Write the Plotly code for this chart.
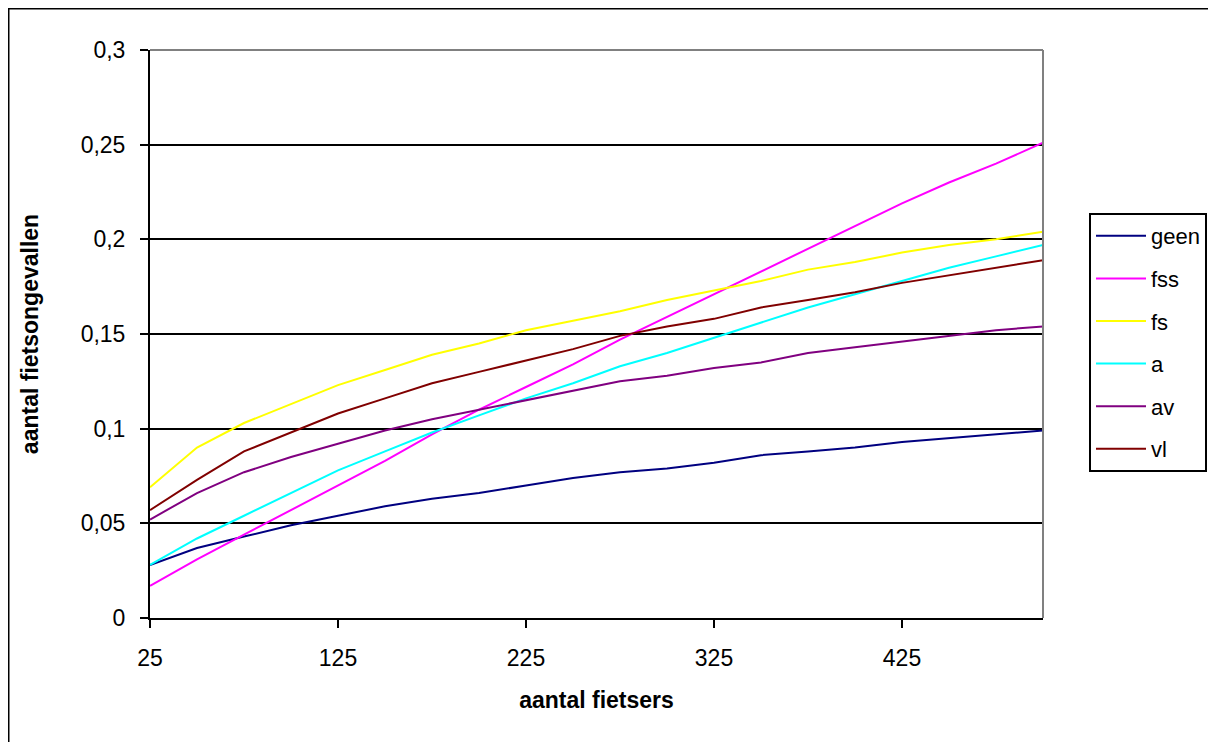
import plotly.graph_objects as go

x = [25, 50, 75, 100, 125, 150, 175, 200, 225, 250, 275, 300, 325, 350, 375, 400, 425, 450, 475, 500]

geen = [0.028, 0.037, 0.043, 0.049, 0.054, 0.059, 0.063, 0.066, 0.070, 0.074, 0.077, 0.079, 0.082, 0.086, 0.088, 0.090, 0.093, 0.095, 0.097, 0.099]
fss = [0.017, 0.031, 0.044, 0.057, 0.070, 0.083, 0.097, 0.110, 0.122, 0.134, 0.147, 0.159, 0.171, 0.183, 0.195, 0.207, 0.219, 0.230, 0.240, 0.251]
fs = [0.069, 0.090, 0.103, 0.113, 0.123, 0.131, 0.139, 0.145, 0.152, 0.157, 0.162, 0.168, 0.173, 0.178, 0.184, 0.188, 0.193, 0.197, 0.200, 0.204]
a = [0.028, 0.042, 0.054, 0.066, 0.078, 0.088, 0.098, 0.107, 0.116, 0.124, 0.133, 0.140, 0.148, 0.156, 0.164, 0.171, 0.178, 0.185, 0.191, 0.197]
av = [0.052, 0.066, 0.077, 0.085, 0.092, 0.099, 0.105, 0.110, 0.115, 0.120, 0.125, 0.128, 0.132, 0.135, 0.140, 0.143, 0.146, 0.149, 0.152, 0.154]
vl = [0.057, 0.073, 0.088, 0.098, 0.108, 0.116, 0.124, 0.130, 0.136, 0.142, 0.149, 0.154, 0.158, 0.164, 0.168, 0.172, 0.177, 0.181, 0.185, 0.189]

series = [
    ("geen", geen, "#000080"),
    ("fss", fss, "#FF00FF"),
    ("fs", fs, "#FFFF00"),
    ("a", a, "#00FFFF"),
    ("av", av, "#800080"),
    ("vl", vl, "#800000"),
]

x_ticks = [25, 125, 225, 325, 425]
y_ticks = [0, 0.05, 0.1, 0.15, 0.2, 0.25, 0.3]
y_tick_text = ["0", "0,05", "0,1", "0,15", "0,2", "0,25", "0,3"]

fig = go.Figure()
for name, vals, col in series:
    fig.add_trace(go.Scatter(x=x, y=vals, mode="lines", name=name, legendgroup=name,
                             line=dict(color=col, width=2)))

# page has an 8px body margin; work in figure coordinates
OFF = 8
W, H = 1216 - OFF, 742 - OFF
L, R, T, B = 150 - OFF, 1043 - OFF, 50 - OFF, 618 - OFF
pw, ph = R - L, B - T

fig.update_layout(
    width=W, height=H,
    margin=dict(l=L, r=W - R, t=T, b=H - B, autoexpand=False),
    paper_bgcolor="white", plot_bgcolor="white",
    font=dict(family="Liberation Sans, Arial, sans-serif", size=22, color="black"),
    showlegend=True,
    legend=dict(x=(1089 - OFF - L) / pw, y=(B - (213 - OFF)) / ph, xanchor="left", yanchor="top",
                bordercolor="black", borderwidth=2, bgcolor="white",
                font=dict(size=22), tracegroupgap=11, itemwidth=50),
    xaxis=dict(range=[25, 500], tickvals=x_ticks, ticks="outside", ticklen=8,
               tickcolor="black", tickwidth=2, showline=True, linecolor="black", linewidth=2,
               showgrid=False, zeroline=False, mirror=False, ticklabelstandoff=10,
               title=dict(text="<b>aantal fietsers</b>", font=dict(size=23), standoff=22),
               tickfont=dict(size=23)),
    yaxis=dict(range=[0, 0.3], tickvals=y_ticks, ticktext=y_tick_text, ticks="outside",
               ticklen=8, tickcolor="black", tickwidth=2, showline=True, linecolor="black", linewidth=2,
               showgrid=True, gridcolor="black", gridwidth=2, zeroline=False, ticklabelstandoff=10,
               title=dict(text="<b>aantal fietsongevallen</b>", font=dict(size=23), standoff=36),
               tickfont=dict(size=23)),
    shapes=[
        dict(type="line", xref="paper", yref="paper", x0=0, x1=1, y0=1, y1=1,
             line=dict(color="#808080", width=2), layer="above"),
        dict(type="line", xref="paper", yref="paper", x0=1, x1=1, y0=0, y1=1,
             line=dict(color="#808080", width=2), layer="above"),
        # outer chart frame (top and left edges visible)
        dict(type="line", xref="paper", yref="paper",
             x0=(0 - L) / pw, x1=(W + 20 - L) / pw, y0=(B - 0) / ph, y1=(B - 0) / ph,
             line=dict(color="black", width=3)),
        dict(type="line", xref="paper", yref="paper",
             x0=(0 - L) / pw, x1=(0 - L) / pw, y0=(B - 0) / ph, y1=(B - H - 20) / ph,
             line=dict(color="black", width=3)),
    ],
)

fig.write_html("out.html")
